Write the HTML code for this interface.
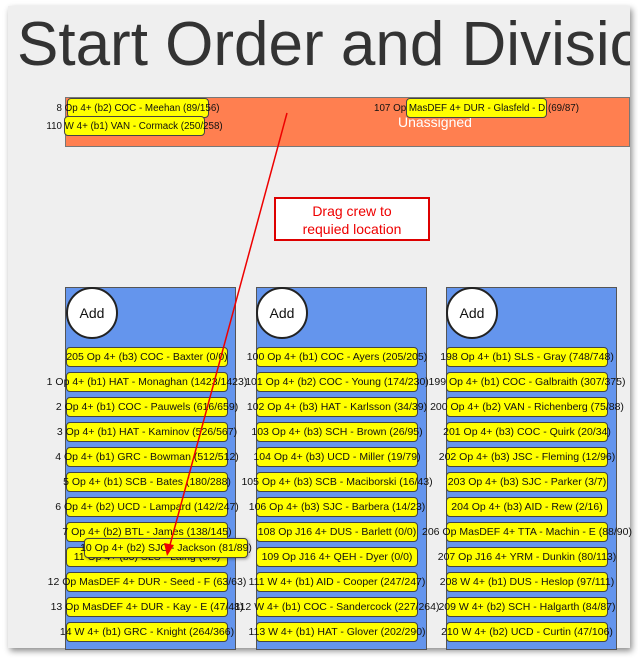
<!DOCTYPE html>
<html><head><meta charset="utf-8"><style>
body{margin:0;width:638px;height:658px;background:#fff;position:relative;overflow:hidden;font-family:"Liberation Sans",sans-serif}
.pg{position:absolute;left:8px;top:6px;width:622px;height:642px;background:#efefef;box-shadow:2px 3px 6px rgba(0,0,0,.45);overflow:hidden}
.t{position:absolute;left:9px;top:3px;font-size:62px;color:#333;white-space:nowrap}
.or{position:absolute;left:65px;top:97px;width:565px;height:50px;background:#ff7f50;border:1px solid #777;box-sizing:border-box}
.col{position:absolute;top:287px;width:171px;height:363px;background:#6495ed;border:1px solid #555;box-sizing:border-box}
.add{position:absolute;width:48px;height:48px;border-radius:50%;background:#fff;border:2px solid #222;display:flex;align-items:center;justify-content:center;font-size:14px;color:#111}
.p{position:absolute;width:162px;height:20px;background:#ffff00;border:1px solid #444;border-radius:4px;box-sizing:border-box;display:flex;justify-content:center;align-items:center;font-size:10.5px;white-space:nowrap;color:#111}
.p span{display:block}
.tp{font-size:9.8px}
.box{position:absolute;left:274px;top:197px;width:156px;height:44px;border:2px solid #d00;background:#fff;box-sizing:border-box;color:#e00;font-size:14px;text-align:center;line-height:18px;padding-top:3px}
</style></head><body>
<div class="pg"><div class="t">Start Order and Division</div></div>
<div class="or"><div style="position:absolute;left:332px;top:16px;color:#fff;font-size:14px">Unassigned</div></div>
<div class="p tp" style="left:67px;top:98px;width:142px"><span>8 Op 4+ (b2) COC - Meehan (89/156)</span></div>
<div class="p tp" style="left:64px;top:116px;width:141px"><span>110 W 4+ (b1) VAN - Cormack (250/258)</span></div>
<div class="p tp" style="left:406px;top:98px;width:141px"><span>107 Op MasDEF 4+ DUR - Glasfeld - D (69/87)</span></div>
<div class="box">Drag crew to<br>requied location</div>
<div class="col" style="left:65px"></div>
<div class="col" style="left:256px"></div>
<div class="col" style="left:446px"></div>
<div class="add" style="left:66px;top:287px">Add</div>
<div class="add" style="left:256px;top:287px">Add</div>
<div class="add" style="left:446px;top:287px">Add</div>
<div id="pills"></div>
<script>
var c=[[66,["205 Op 4+ (b3) COC - Baxter (0/0)","1 Op 4+ (b1) HAT - Monaghan (1423/1423)","2 Op 4+ (b1) COC - Pauwels (616/659)","3 Op 4+ (b1) HAT - Kaminov (526/567)","4 Op 4+ (b1) GRC - Bowman (512/512)","5 Op 4+ (b1) SCB - Bates (180/288)","6 Op 4+ (b2) UCD - Lampard (142/247)","7 Op 4+ (b2) BTL - James (138/145)","11 Op 4+ (b3) SLS - Laing (0/0)","12 Op MasDEF 4+ DUR - Seed - F (63/63)","13 Op MasDEF 4+ DUR - Kay - E (47/48)","14 W 4+ (b1) GRC - Knight (264/366)"]],
[256,["100 Op 4+ (b1) COC - Ayers (205/205)","101 Op 4+ (b2) COC - Young (174/230)","102 Op 4+ (b3) HAT - Karlsson (34/39)","103 Op 4+ (b3) SCH - Brown (26/95)","104 Op 4+ (b3) UCD - Miller (19/79)","105 Op 4+ (b3) SCB - Maciborski (16/43)","106 Op 4+ (b3) SJC - Barbera (14/23)","108 Op J16 4+ DUS - Barlett (0/0)","109 Op J16 4+ QEH - Dyer (0/0)","111 W 4+ (b1) AID - Cooper (247/247)","112 W 4+ (b1) COC - Sandercock (227/264)","113 W 4+ (b1) HAT - Glover (202/290)"]],
[446,["198 Op 4+ (b1) SLS - Gray (748/748)","199 Op 4+ (b1) COC - Galbraith (307/375)","200 Op 4+ (b2) VAN - Richenberg (75/88)","201 Op 4+ (b3) COC - Quirk (20/34)","202 Op 4+ (b3) JSC - Fleming (12/96)","203 Op 4+ (b3) SJC - Parker (3/7)","204 Op 4+ (b3) AID - Rew (2/16)","206 Op MasDEF 4+ TTA - Machin - E (88/90)","207 Op J16 4+ YRM - Dunkin (80/113)","208 W 4+ (b1) DUS - Heslop (97/111)","209 W 4+ (b2) SCH - Halgarth (84/87)","210 W 4+ (b2) UCD - Curtin (47/106)"]]];
var h="";c.forEach(function(k){k[1].forEach(function(s,i){h+='<div class="p" style="left:'+k[0]+'px;top:'+(347+i*25)+'px"><span>'+s+'</span></div>';});});
h+='<div class="p" style="left:84px;top:538px;width:164px;box-shadow:1px 1px 3px rgba(0,0,0,.4)"><span>10 Op 4+ (b2) SJC - Jackson (81/89)</span></div>';
document.getElementById("pills").innerHTML=h;
</script>
<svg style="position:absolute;left:0;top:0" width="638" height="658">
<line x1="287" y1="113" x2="170" y2="545" stroke="#e00" stroke-width="1.5"/>
<polygon points="167,556 164,543 174,545" fill="#e00"/>
</svg>
</body></html>
